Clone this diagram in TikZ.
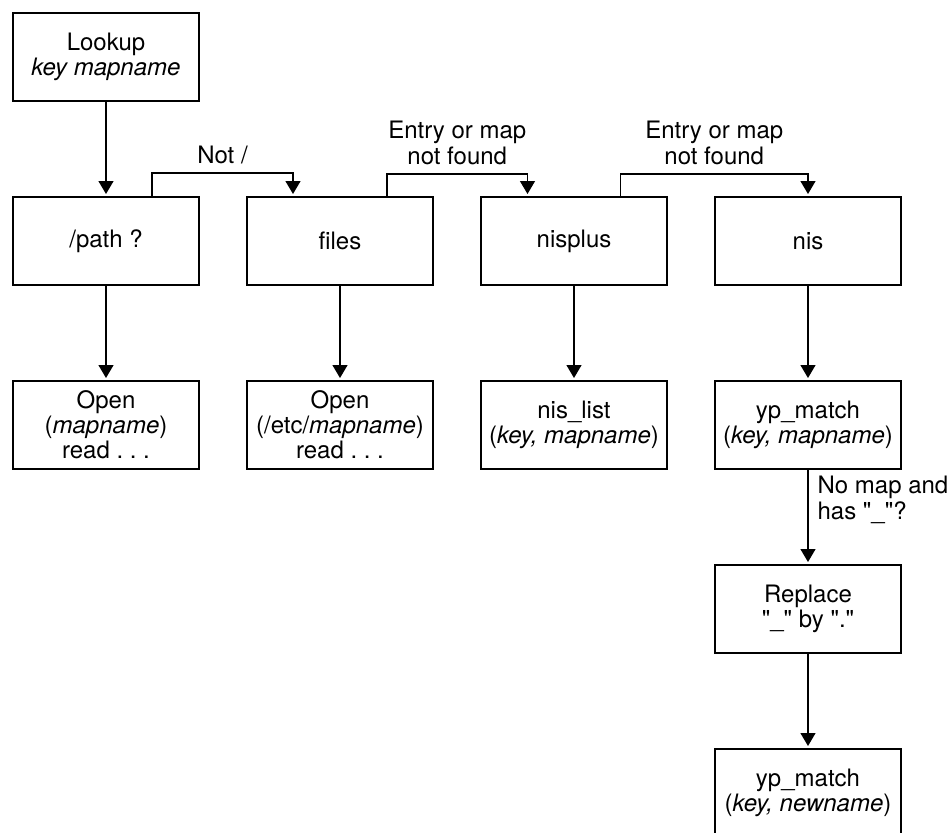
\documentclass[tikz,border=0pt]{standalone}
\usepackage{fontspec}
\setmainfont{TeX Gyre Heros}
\usetikzlibrary{arrows.meta, positioning}

\begin{document}
\begin{tikzpicture}[
      x=0.5pt, y=-0.5pt,
      node distance=48pt and 24pt,
      every node/.style={font=\fontsize{12pt}{12.5pt}\selectfont},
      box/.style={draw, rectangle, minimum width=93pt, minimum height=44pt, inner sep=0pt, outer sep=0pt, align=center},
      lbl/.style={inner sep=0pt, font=\fontsize{12pt}{13pt}\selectfont},
      -{Triangle[length=6.5pt, width=7.5pt]}, shorten >=1.5pt, line width=0.6pt
    ]

    \useasboundingbox (0,0) rectangle (950,832);

    % Boxes
    \node[box] (lookup) at (106,57) {Lookup\\\textit{key mapname}};
    \node[box, below=of lookup] (path) {/path ?};
    \node[box, right=of path] (files) {files};
    \node[box, right=of files] (nisplus) {nisplus};
    \node[box, right=of nisplus] (nis) {nis};
    \node[box, below=of path] (openmap) {Open\\(\textit{mapname})\\read .\ .\ .};
    \node[box, below=of files] (openetc) {Open\\(/etc/\textit{mapname})\\read .\ .\ .};
    \node[box, below=of nisplus] (nislist) {nis\_list\\(\textit{key, mapname})};
    \node[box, below=of nis] (ypmatch) {yp\_match\\(\textit{key, mapname})};
    \node[box, below=of ypmatch] (replace) {Replace\\\textquotedbl\_\textquotedbl{} by \textquotedbl.\textquotedbl};
    \node[box, below=of replace] (ypnew) {yp\_match\\(\textit{key, newname})};

    % Arrows
    \draw (lookup) -- (path);
    \draw (path) -- (openmap);
    \draw (files) -- (openetc);
    \draw (nisplus) -- (nislist);
    \draw (nis) -- (ypmatch);
    \draw (replace) -- (ypnew);
    \draw (ypmatch) -- node[lbl, pos=0, anchor=north west, align=left, xshift=4.5pt, yshift=-3pt]
      {No map and\\has \textquotedbl\_\textquotedbl?} (replace);

    % Fall-through connectors
    \draw ([xshift=23pt]path.north) -- ++(0,12pt) -| node[lbl, pos=0.25, above=4pt] {Not /}
      ([xshift=-23.5pt]files.north);
    \draw ([xshift=23.5pt]files.north) -- ++(0,11.5pt) -| node[lbl, pos=0.25, above=4.5pt, align=center]
      {Entry or map\\not found} ([xshift=-23.25pt]nisplus.north);
    \draw ([xshift=23.25pt]nisplus.north) -- ++(0,11.5pt) -| node[lbl, pos=0.25, above=4.5pt, align=center]
      {Entry or map\\not found} (nis.north);
\end{tikzpicture}
\end{document}
